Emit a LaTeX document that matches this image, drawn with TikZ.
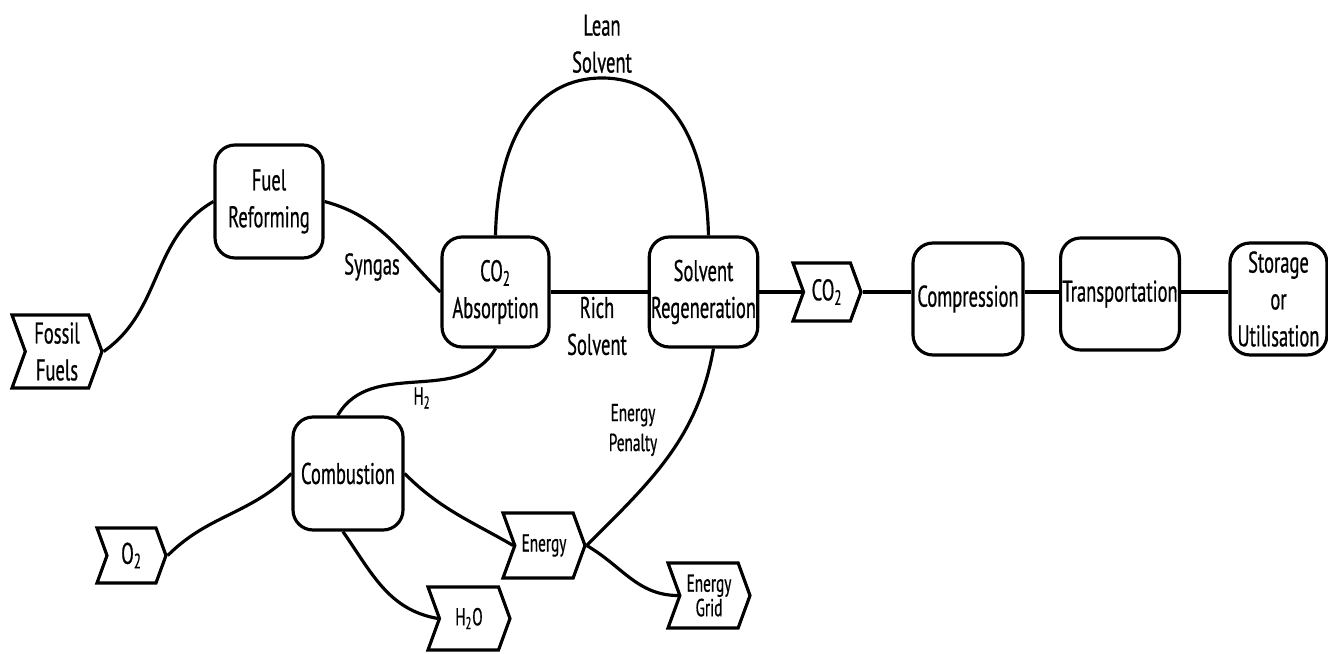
\documentclass[tikz,border=0pt]{standalone}
\usepackage{fontspec}
\usepackage{tikz}
\usetikzlibrary{shapes.symbols,positioning}
\newfontfamily\diafont[FakeStretch=0.62,FakeBold=0.6]{PT Sans}
\newcommand{\bigtxt}{\diafont\fontsize{17}{21}\selectfont}
\newcommand{\smalltxt}{\diafont\fontsize{14}{17}\selectfont}
\tikzset{
  proc/.style={draw, line width=1.8pt, rounded corners=0.4cm, align=center,
    minimum width=2.2cm, minimum height=2.24cm, inner sep=1pt, font=\bigtxt},
  flow/.style={draw, line width=1.8pt, shape=signal, signal from=west, signal to=east,
    signal pointer angle=140, align=center, inner sep=1pt, font=\bigtxt},
  lbl/.style={align=center, inner sep=1pt, font=\bigtxt},
  link/.style={line width=1.8pt},
}

\begin{document}
\begin{tikzpicture}[x=0.02cm, y=0.02cm]
    \useasboundingbox (0,0) rectangle (1328,653);

    % Process boxes
    \node[proc, minimum width=2.16cm, minimum height=2.26cm] (fr) at (269,451.5) {Fuel\\Reforming};
    \node[proc, minimum width=2.14cm, minimum height=2.2cm] (abs) at (495.5,361) {CO\textsubscript{2}\\Absorption};
    \node[proc, minimum width=2.14cm, minimum height=2.2cm] (reg) at (703.5,361) {Solvent\\Regeneration};
    \node[proc] (comp) at (968,354) {Compression};
    \node[proc] (trans) at (1120,359) {Transportation};
    \node[proc, minimum width=1.94cm] (stor) at (1278.5,354) {Storage\\or\\Utilisation};
    \node[proc, minimum height=2.26cm] (comb) at (348,179.5) {Combustion};

    % Flows in and out
    \node[flow, minimum width=1.8cm, minimum height=1.46cm] (ff) at (57,301.5) {Fossil\\Fuels};
    \node[flow, minimum width=1.36cm, minimum height=1.16cm] (co2) at (827,361) {CO\textsubscript{2}};
    \node[flow, minimum width=1.38cm, minimum height=1.1cm] (o2) at (131.5,97.5) {O\textsubscript{2}};
    \node[flow, minimum width=1.64cm, minimum height=1.3cm, font=\smalltxt] (energy) at (544,107.5) {Energy};
    \node[flow, minimum width=1.64cm, minimum height=1.26cm, font=\smalltxt] (h2o) at (469,34.5) {H\textsubscript{2}O};
    \node[flow, minimum width=1.64cm, minimum height=1.3cm, font=\diafont\fontsize{14}{12}\selectfont] (grid) at (709,57.5) {Energy\\Grid};

    % Stream labels
    \coordinate (leantop) at (602,575);
    \node[lbl, above=0.06cm of leantop] (lean) {Lean\\Solvent};
    \node[lbl] (syn) at (372,386) {Syngas};
    \node[lbl] (rich) at (597,327) {Rich\\Solvent};
    \node[lbl, font=\smalltxt] (h2) at (422,255) {H\textsubscript{2}};
    \node[lbl, font=\smalltxt] (pen) at (633,223) {Energy\\Penalty};

    % Connectors
    \draw[link] (ff.east) to[out=35, in=210] (fr.west);
    \draw[link] (fr.east) to[out=-15, in=135] (abs.west);
    \draw[link] (abs.south) to[out=-120, in=60] (comb.100);
    \draw[link] (abs.north) .. controls +(2,98) and +(-66,0) .. (leantop)
                            .. controls +(66,0) and +(-2,98) .. (reg.85);
    \draw[link] (abs.east) -- (reg.west);
    \draw[link] (reg.-80) to[out=-100, in=45] (energy.east);
    \draw[link] (comb.east) to[out=-45, in=150] (energy.west);
    \draw[link] (comb.-95) to[out=-55, in=170] (h2o.west);
    \draw[link] (o2.east) to[out=45, in=225] (comb.west);
    \draw[link] (energy.east) to[out=-30, in=180] (grid.west);
    \draw[link] (reg.east) -- (co2.west);
    \draw[link] (co2.east) -- (co2.east -| comp.west);
    \draw[link] (comp.east |- co2.east) -- (trans.west |- co2.east);
    \draw[link] (trans.east |- co2.east) -- (stor.west |- co2.east);

\end{tikzpicture}
\end{document}
